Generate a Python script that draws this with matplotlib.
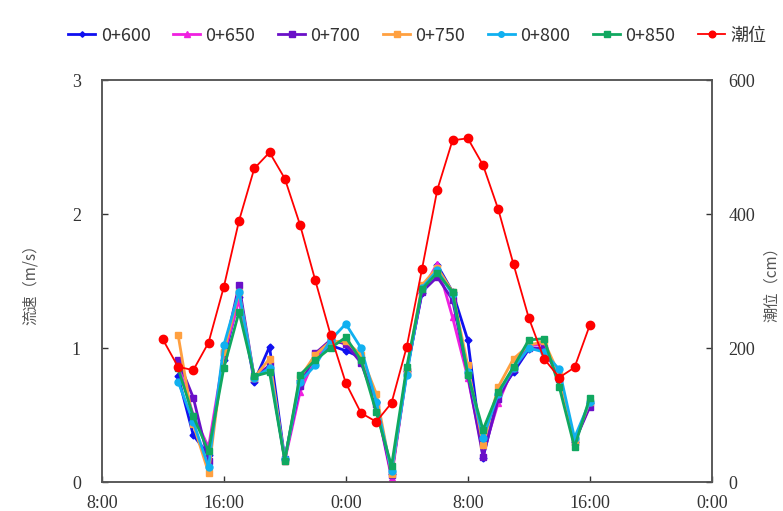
import numpy as np
import matplotlib
matplotlib.use("Agg")
import matplotlib.pyplot as plt

# hours counted from 8:00 of day 1
tide_hours = np.arange(4, 33)        # 12:00 day1 .. 16:00 day2
vel_hours = np.arange(5, 33)         # 13:00 day1 .. 16:00 day2

tide = [213, 172, 167, 208, 291, 390, 468, 492, 453, 384, 301, 220, 148, 103, 90,
        118, 202, 318, 436, 510, 513, 473, 407, 325, 245, 184, 156, 171, 234]

v600 = [0.79, 0.35, 0.20, 0.91, 1.38, 0.75, 1.01, 0.17, 0.76, 0.92, 1.02, 0.98, 0.93, 0.60,
        0.06, 0.83, 1.41, 1.62, 1.42, 1.06, 0.18, 0.65, 0.82, 0.99, 1.00, 0.80, 0.30, 0.59]
v650 = [0.88, 0.50, 0.26, 0.95, 1.36, 0.78, 0.87, 0.16, 0.67, 0.93, 1.03, 1.05, 0.92, 0.58,
        0.03, 0.82, 1.43, 1.63, 1.23, 0.78, 0.22, 0.59, 0.86, 1.02, 1.03, 0.78, 0.30, 0.57]
v700 = [0.91, 0.63, 0.16, 0.96, 1.47, 0.78, 0.87, 0.17, 0.72, 0.96, 1.06, 1.03, 0.89, 0.58,
        0.05, 0.83, 1.42, 1.53, 1.36, 0.80, 0.19, 0.62, 0.84, 1.00, 1.00, 0.77, 0.30, 0.56]
v750 = [1.10, 0.43, 0.07, 0.97, 1.42, 0.78, 0.92, 0.16, 0.78, 0.95, 1.05, 1.05, 0.95, 0.66,
        0.06, 0.83, 1.47, 1.60, 1.42, 0.87, 0.28, 0.71, 0.92, 1.02, 1.05, 0.80, 0.30, 0.60]
v800 = [0.75, 0.45, 0.11, 1.02, 1.42, 0.78, 0.85, 0.17, 0.75, 0.87, 1.06, 1.18, 1.00, 0.60,
        0.08, 0.80, 1.45, 1.58, 1.40, 0.82, 0.33, 0.66, 0.85, 1.00, 0.97, 0.84, 0.33, 0.60]
v850 = [0.85, 0.49, 0.23, 0.85, 1.27, 0.79, 0.82, 0.16, 0.80, 0.91, 1.00, 1.08, 0.91, 0.52,
        0.12, 0.86, 1.44, 1.56, 1.42, 0.80, 0.39, 0.67, 0.86, 1.06, 1.07, 0.71, 0.26, 0.63]

series_names = ["0+600", "0+650", "0+700", "0+750", "0+800", "0+850"]
tide_name = "潮位"
xtick_labels = ["8:00", "16:00", "0:00", "8:00", "16:00", "0:00"]

colors = ["#1010F0", "#F020E0", "#6A10C8", "#FFA040", "#10B0F0", "#10A860"]
markers = ["D", "^", "s", "s", "o", "s"]
msizes = [3.5, 5, 5, 5, 5, 5]

fig = plt.figure(figsize=(7.83, 5.11), dpi=100)
ax = fig.add_axes([0.130, 0.0567, 0.779, 0.7867])
ax2 = ax.twinx()

handles = []
for vals, name, c, m, ms in zip([v600, v650, v700, v750, v800, v850],
                                series_names, colors, markers, msizes):
    h, = ax.plot(vel_hours, vals, color=c, marker=m, markersize=ms, linewidth=2.0,
                 label=name)
    handles.append(h)

ht, = ax2.plot(tide_hours, tide, color="#FF0000", marker="o", markersize=6,
               linewidth=1.3, label=tide_name)
handles.append(ht)

ax.set_xlim(0, 40)
ax.set_ylim(0, 3)
ax2.set_ylim(0, 600)
ax.set_xticks([0, 8, 16, 24, 32, 40])
ax.set_xticklabels(xtick_labels)
ax.set_yticks([0, 1, 2, 3])
ax2.set_yticks([0, 200, 400, 600])

serif = "Liberation Serif"
for a in (ax, ax2):
    a.tick_params(direction="in", length=4, width=1, colors="#333333", labelsize=13)
    for lbl in a.get_xticklabels() + a.get_yticklabels():
        lbl.set_fontfamily(serif)
    for s in a.spines.values():
        s.set_color("#555555")
        s.set_linewidth(1.1)
ax.tick_params(axis="x", pad=9)
ax.tick_params(axis="y", pad=15)
ax2.tick_params(axis="y", pad=12)

cjk = ["Noto Sans CJK SC", "DejaVu Sans"]
ax.set_ylabel("流速（m/s）", fontfamily=cjk, fontsize=11, color="#555555", labelpad=24)
ax2.set_ylabel("潮位（cm）", fontfamily=cjk, fontsize=11, color="#555555", labelpad=6)

leg = fig.legend(handles=handles, loc="center", bbox_to_anchor=(0.533, 0.93), ncol=7,
                 frameon=False, handlelength=1.5, handletextpad=0.3, columnspacing=1.25,
                 markerscale=0.8, prop={"family": cjk, "size": 13})
for t in leg.get_texts():
    t.set_color("#333333")

fig.savefig("out.png", dpi=100)
